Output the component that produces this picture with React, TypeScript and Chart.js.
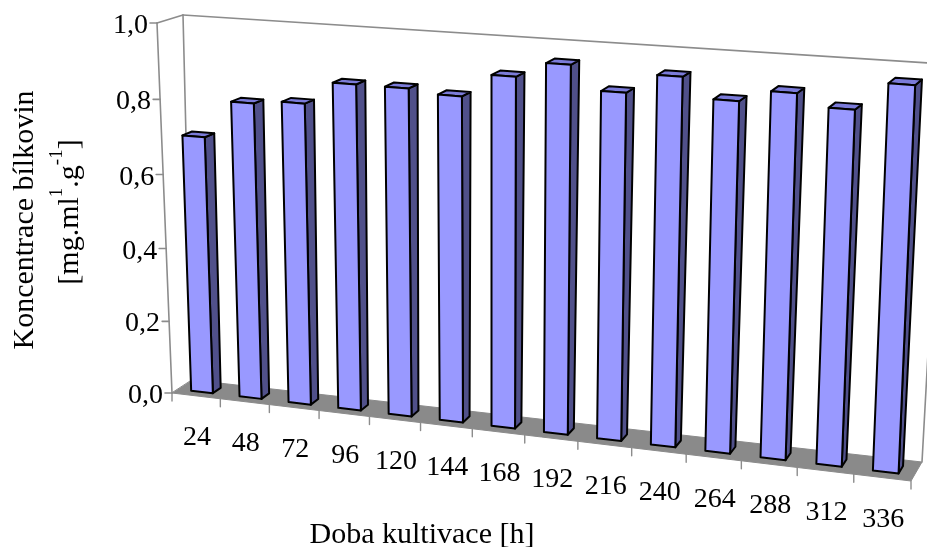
import React, { useEffect, useRef } from 'react';
import { Chart, registerables } from 'chart.js';

Chart.register(...registerables);

// ---- data ----
const categories = ['24', '48', '72', '96', '120', '144', '168', '192', '216', '240', '264', '288', '312', '336'];
const proteinConc = [0.70, 0.80, 0.81, 0.87, 0.87, 0.86, 0.92, 0.96, 0.90, 0.95, 0.90, 0.93, 0.90, 0.97];
const yTicks = [0, 0.2, 0.4, 0.6, 0.8, 1.0];
const yTickLabels = ['0,0', '0,2', '0,4', '0,6', '0,8', '1,0'];
const xTitle = 'Doba kultivace [h]';
const yTitle = 'Koncentrace bílkovin';
const yUnitParts: [string, boolean][] = [['[mg.ml', false], ['1', true], ['.g', false], ['-1', true], [']', false]];

// ---- style ----
const FONT = "'Liberation Serif', 'Times New Roman', serif";
const FRONT = '#9999ff';
const SIDE = '#50508a';
const TOP = '#7b7bd9';
const FLOOR = '#8a8a8a';
const WALL = '#8c8c8c';

type Pt = [number, number];

// map flat chart-area coordinates (u across, w up, z depth) into the tilted 3D view
function makeProjector(area: any) {
  const W = area.right - area.left;
  const H = area.bottom - area.top;
  return (u: number, w: number, z: number): Pt => {
    const p = 0.9093 * u + 0.0907 * u * u;
    const h = w - 0.04 * w * (1 - w);
    const x0 = area.left + W * p + h * (-15 + 31 * p);
    const y0 = area.bottom + 88 * p - h * (H + 33 * p);
    const dx = (1 - p) * (20 + 6 * h) + p * (11 + 6 * h);
    const dy = (1 - p) * (-13 + 5 * h) + p * (-19 + 5 * h);
    return [x0 + z * dx, y0 + z * dy];
  };
}

function poly(ctx: CanvasRenderingContext2D, pts: Pt[], fill: string | null, stroke: string | null, lw: number) {
  ctx.beginPath();
  ctx.moveTo(pts[0][0], pts[0][1]);
  for (let i = 1; i < pts.length; i++) ctx.lineTo(pts[i][0], pts[i][1]);
  ctx.closePath();
  if (fill) {
    ctx.fillStyle = fill;
    ctx.fill();
  }
  if (stroke) {
    ctx.strokeStyle = stroke;
    ctx.lineWidth = lw;
    ctx.stroke();
  }
}

function seg(ctx: CanvasRenderingContext2D, a: Pt, b: Pt, color: string, lw: number) {
  ctx.beginPath();
  ctx.moveTo(a[0], a[1]);
  ctx.lineTo(b[0], b[1]);
  ctx.strokeStyle = color;
  ctx.lineWidth = lw;
  ctx.stroke();
}

const scene3d = {
  id: 'scene3d',
  beforeDatasetsDraw: () => false,
  afterDraw(chart: any) {
    const ctx: CanvasRenderingContext2D = chart.ctx;
    const area = chart.chartArea;
    const xs = chart.scales.x;
    const ys = chart.scales.y;
    const P = makeProjector(area);
    const W = area.right - area.left;
    const H = area.bottom - area.top;
    const toU = (px: number) => (px - area.left) / W;
    const toW = (py: number) => (area.bottom - py) / H;

    ctx.save();
    ctx.lineJoin = 'round';
    ctx.lineCap = 'round';

    // floor
    poly(ctx, [P(0, 0, 0), P(1, 0, 0), P(1, 0, 1), P(0, 0, 1)], FLOOR, FLOOR, 1);

    // walls
    seg(ctx, P(0, 0, 0), P(0, 1, 0), WALL, 1.6);
    seg(ctx, P(0, 1, 0), P(0, 1, 1), WALL, 1.6);
    seg(ctx, P(0, 0, 1), P(0, 1, 1), WALL, 1.6);
    seg(ctx, P(0, 1, 1), P(1, 1, 1), WALL, 1.6);
    seg(ctx, P(1, 0, 1), P(1, 1, 1), WALL, 1.6);

    // y axis ticks + labels
    ctx.fillStyle = '#000';
    ctx.font = `28px ${FONT}`;
    ctx.textAlign = 'right';
    ctx.textBaseline = 'alphabetic';
    yTicks.forEach((v, i) => {
      const w = toW(ys.getPixelForValue(v));
      const [x, y] = P(0, w, 0);
      seg(ctx, [x - 7, y], [x, y], WALL, 1.6);
      ctx.fillStyle = '#000';
      ctx.fillText(yTickLabels[i], x - 9, y + 10);
    });

    // x axis ticks + labels
    const n = categories.length;
    const half = (xs.getPixelForValue(1) - xs.getPixelForValue(0)) / 2;
    for (let k = 0; k <= n; k++) {
      const u = toU(xs.getPixelForValue(k) - half);
      const [x, y] = P(u, 0, 0);
      seg(ctx, [x, y], [x, y + 8], WALL, 1.4);
    }
    ctx.textAlign = 'center';
    ctx.fillStyle = '#000';
    categories.forEach((c, i) => {
      const u = toU(xs.getPixelForValue(i));
      const [x, y] = P(u, 0, 0);
      ctx.fillText(c, x + 1, y + 49);
    });

    // bars
    const meta = chart.getDatasetMeta(0);
    const z0 = 0.3;
    const z1 = 0.7;
    meta.data.forEach((el: any) => {
      const u0 = toU(el.x - el.width / 2);
      const u1 = toU(el.x + el.width / 2);
      const w = toW(el.y);
      const side = [P(u1, 0, z0), P(u1, 0, z1), P(u1, w, z1), P(u1, w, z0)];
      const top = [P(u0, w, z0), P(u1, w, z0), P(u1, w, z1), P(u0, w, z1)];
      const front = [P(u0, 0, z0), P(u1, 0, z0), P(u1, w, z0), P(u0, w, z0)];
      poly(ctx, side, SIDE, '#000', 2);
      poly(ctx, top, TOP, '#000', 2);
      poly(ctx, front, FRONT, '#000', 2);
    });

    // x title
    ctx.font = `30px ${FONT}`;
    ctx.textAlign = 'center';
    ctx.fillStyle = '#000';
    ctx.fillText(xTitle, 422, 543);

    // y title line 1
    ctx.save();
    ctx.translate(33, 220);
    ctx.rotate(-Math.PI / 2);
    ctx.textAlign = 'center';
    ctx.fillText(yTitle, 0, 0);
    ctx.restore();

    // y title line 2 with superscripts
    ctx.save();
    ctx.translate(78, 212);
    ctx.rotate(-Math.PI / 2);
    ctx.textAlign = 'left';
    const big = `30px ${FONT}`;
    const small = `19px ${FONT}`;
    let total = 0;
    yUnitParts.forEach(([t, sup]) => {
      ctx.font = sup ? small : big;
      total += ctx.measureText(t).width;
    });
    let cx = -total / 2;
    yUnitParts.forEach(([t, sup]) => {
      ctx.font = sup ? small : big;
      ctx.fillText(t, cx, sup ? -16 : 0);
      cx += ctx.measureText(t).width;
    });
    ctx.restore();

    ctx.restore();
  },
};

export default function App() {
  const ref = useRef<HTMLCanvasElement | null>(null);
  useEffect(() => {
    if (!ref.current) return;
    const chart = new Chart(ref.current, {
      type: 'bar',
      data: {
        labels: categories,
        datasets: [
          {
            data: proteinConc,
            backgroundColor: FRONT,
            categoryPercentage: 1,
            barPercentage: 0.45,
          },
        ],
      },
      options: {
        responsive: false,
        animation: false,
        devicePixelRatio: 1,
        layout: { padding: { left: 172, right: 16, top: 23, bottom: 154 } },
        scales: {
          x: { display: false },
          y: { display: false, min: 0, max: 1, ticks: { stepSize: 0.2 } },
        },
        plugins: { legend: { display: false }, tooltip: { enabled: false } },
      },
      plugins: [scene3d],
    } as any);
    return () => chart.destroy();
  }, []);
  return (
    <div style={{ position: 'fixed', left: 0, top: 0, width: 927, height: 547, background: '#fff' }}>
      <canvas ref={ref} width={927} height={547} />
    </div>
  );
}
